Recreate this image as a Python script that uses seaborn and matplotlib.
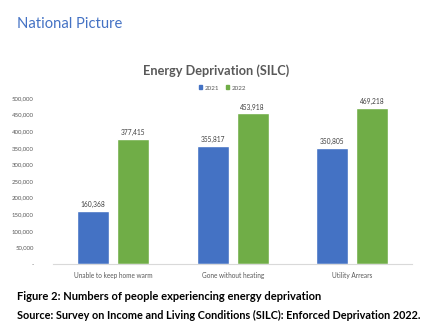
import matplotlib
matplotlib.use("Agg")
import matplotlib.pyplot as plt
import seaborn as sns
import pandas as pd
from matplotlib.ticker import FixedLocator
from matplotlib.patches import Patch

categories = ["Unable to keep home warm", "Gone without heating", "Utility Arrears"]
years = ["2021", "2022"]
values_2021 = [160368, 355817, 350805]
values_2022 = [377415, 453918, 469218]
ytick_values = [0, 50000, 100000, 150000, 200000, 250000, 300000, 350000, 400000, 450000, 500000]
ytick_labels = ["-", "50,000", "100,000", "150,000", "200,000", "250,000", "300,000",
                "350,000", "400,000", "450,000", "500,000"]

df = pd.DataFrame({
    "category": categories * 2,
    "year": [years[0]] * 3 + [years[1]] * 3,
    "value": values_2021 + values_2022,
})

sns.set_theme(style="white")
plt.rcParams["font.family"] = ["Lato", "DejaVu Sans"]

fig = plt.figure(figsize=(4.32, 3.31), dpi=100)
ax = fig.add_axes([0.123, 0.2024, 0.831, 0.5016])

palette = {"2021": "#4472C4", "2022": "#70AD47"}
sns.barplot(data=df, x="category", y="value", hue="year", order=categories,
            hue_order=years, palette=palette, width=0.667, gap=0.2,
            saturation=1, ax=ax, legend=False, errorbar=None)

ax.set_ylim(0, 500000)
ax.set_xlim(-0.5, 2.5)
ax.yaxis.set_major_locator(FixedLocator(ytick_values))
ax.set_yticklabels(ytick_labels)
ax.tick_params(axis="y", labelsize=4.3, colors="#595959", length=0, pad=14)
ax.tick_params(axis="x", labelsize=4.7, colors="#595959", length=0, pad=6)
ax.set_xlabel("")
ax.set_ylabel("")
for s in ["top", "right", "left"]:
    ax.spines[s].set_visible(False)
ax.spines["bottom"].set_color("#D9D9D9")
ax.spines["bottom"].set_linewidth(0.8)

for cont in ax.containers:
    ax.bar_label(cont, labels=[f"{v:,.0f}" for v in cont.datavalues],
                 fontsize=4.8, color="#404040", padding=2)

fig.text(0.039, 0.928, "National Picture", fontsize=10.6, color="#4472C4",
         fontweight="normal", ha="left", va="center")
fig.text(0.5, 0.788, "Energy Deprivation (SILC)", fontsize=9.2, color="#595959",
         fontweight="bold", ha="center", va="center")

handles = [Patch(color=palette[y], label=y) for y in years]
fig.legend(handles=handles, loc="center", bbox_to_anchor=(0.515, 0.734), ncol=2,
           frameon=False, fontsize=4.5, handlelength=0.6, handleheight=0.6,
           columnspacing=1.0, handletextpad=0.4, labelcolor="#595959")

fig.text(0.039, 0.103, "Figure 2: Numbers of people experiencing energy deprivation",
         fontsize=8.0, fontweight="bold", color="black", ha="left", va="center")
fig.text(0.039, 0.048, "Source: Survey on Income and Living Conditions (SILC): Enforced Deprivation 2022.",
         fontsize=7.8, fontweight="bold", color="black", ha="left", va="center")

fig.savefig("out.png", dpi=100, facecolor="white")
